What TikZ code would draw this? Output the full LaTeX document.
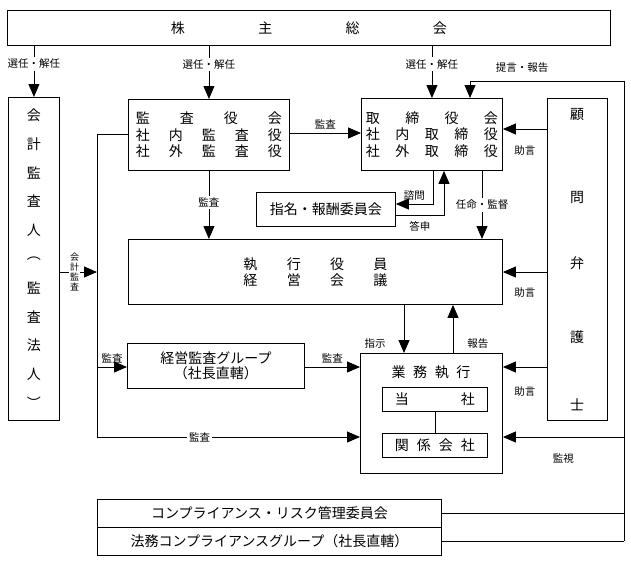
\documentclass[tikz,border=0pt]{standalone}
\usepackage{fontspec}
\setmainfont{Noto Sans CJK JP}
\usetikzlibrary{arrows.meta}
\newcommand{\spreadtxt}[2]{\makebox[#1][s]{#2}}
\tikzset{
  box/.style={draw, line width=0.9pt, inner sep=0pt, anchor=north west, align=center, font=\fontsize{14}{16.5}\selectfont},
  lbl/.style={inner sep=1pt, font=\fontsize{10.5}{12}\selectfont},
  cutlbl/.style={lbl, fill=white, inner sep=2pt},
  tinylbl/.style={cutlbl, inner sep=1pt, align=center, font=\fontsize{9}{10}\selectfont},
  arr/.style={-{Triangle[length=13pt,width=11pt]}, line width=0.9pt},
  ln/.style={line width=0.9pt},
  vchar/.style={inner sep=0pt, font=\fontsize{14}{16}\selectfont}
}

\begin{document}
\begin{tikzpicture}[x=1pt, y=-1pt]
  %%%%% START %%%%%
  \useasboundingbox (0,0) rectangle (631,560);

  % boxes
  \node[box, minimum width=603pt, minimum height=35pt] (kabu) at (7,10) {\spreadtxt{276pt}{株\hfill 主\hfill 総\hfill 会}};
  \node[box, minimum width=51pt, minimum height=323pt] (kaikei) at (8,97) {};
  \node[box, minimum width=161pt, minimum height=71pt] (kansa) at (128,99)
    {\spreadtxt{146pt}{監\hfill 査\hfill 役\hfill 会}\\
     \spreadtxt{146pt}{社\hfill 内\hfill 監\hfill 査\hfill 役}\\
     \spreadtxt{146pt}{社\hfill 外\hfill 監\hfill 査\hfill 役}};
  \node[box, minimum width=141pt, minimum height=72pt] (tori) at (361,98)
    {\spreadtxt{132pt}{取\hfill 締\hfill 役\hfill 会}\\
     \spreadtxt{132pt}{社\hfill 内\hfill 取\hfill 締\hfill 役}\\
     \spreadtxt{132pt}{社\hfill 外\hfill 取\hfill 締\hfill 役}};
  \node[box, minimum width=60pt, minimum height=322pt] (komon) at (547,98) {};
  \node[box, minimum width=139pt, minimum height=34pt] (shimei) at (256,192) {指名・報酬委員会};
  \node[box, minimum width=374pt, minimum height=65pt, font=\fontsize{14}{16}\selectfont] (shikko) at (128,239)
    {\spreadtxt{144pt}{執\hfill 行\hfill 役\hfill 員}\\
     \spreadtxt{144pt}{経\hfill 営\hfill 会\hfill 議}};
  \node[box, minimum width=177pt, minimum height=45pt, font=\fontsize{14}{15}\selectfont] (keiei) at (127,343) {経営監査グループ\\（社長直轄）};
  \node[box, minimum width=142pt, minimum height=120pt] (gyomu) at (360,353) {};
  \node[vchar] (gyomut) at (431,372) {\spreadtxt{79pt}{業\hfill 務\hfill 執\hfill 行}};
  \node[box, minimum width=105pt, minimum height=24pt] (tosha) at (382,387) {\spreadtxt{80pt}{当\hfill 社}};
  \node[box, minimum width=105pt, minimum height=24pt] (kankei) at (382,433) {\spreadtxt{80pt}{関\hfill 係\hfill 会\hfill 社}};
  \node[box, minimum width=344pt, minimum height=28pt] (comp) at (97,499) {コンプライアンス・リスク管理委員会};
  \node[box, minimum width=344pt, minimum height=28pt] (homu) at (97,527) {法務コンプライアンスグループ（社長直轄）};

  % vertical texts
  \foreach \c [count=\i from 0] in {会,計,監,査,人,︵,監,査,法,人,︶}
    \node[vchar] (kaikei-\i) at (34,{115+28.8*\i}) {\c};
  \foreach \c/\yy [count=\i] in {顧/115,問/197,弁/263,護/337,士/405}
    \node[vchar] (komon-\i) at (577,\yy) {\c};

  % free corners
  \coordinate (rtop) at (624,81);
  \coordinate (rbot) at (rtop |- homu.east);
  \coordinate (ltop) at (97,134);
  \coordinate (lmid) at (97,367);
  \coordinate (lbot) at (97,437);

  % from the general meeting
  \draw[arr] (kaikei.north |- kabu.south) -- (kaikei.north) node[cutlbl, pos=0.35] {選任・解任};
  \draw[arr] (kansa.north |- kabu.south) -- (kansa.north) node[cutlbl, pos=0.35] {選任・解任};
  \draw[arr] (tori.north |- kabu.south) -- (tori.north) node[cutlbl, pos=0.35] {選任・解任};

  % audit lines
  \draw[arr] (kansa.east |- 0,133) -- (tori.west |- 0,133) node[lbl, midway, above=2pt] {監査};
  \draw[arr] (kansa.south) -- (shikko.north -| kansa.south) node[cutlbl, pos=0.46] {監査};
  \draw[arr] (kansa.west |- ltop) -- (ltop) -- (lbot) -- (gyomu.west |- lbot) node[cutlbl, pos=0.39] {監査};
  \draw[arr] (lmid) -- (keiei.west |- lmid) node[lbl, midway, above=2pt] {監査};
  \draw[arr] (kaikei.east |- 0,272) -- (ltop |- 0,272) node[tinylbl, pos=0.4] {会\\計\\監\\査};
  \draw[arr] (keiei.east |- lmid) -- (gyomu.west |- lmid) node[lbl, midway, above=2pt] {監査};

  % board and committee
  \draw[arr] (tori.south -| 433,0) |- (shimei.east |- 0,204) node[lbl, pos=0.75, above=2pt] {諮問};
  \draw[arr] (shimei.east |- 0,215) -| (tori.south -| 444,0) node[lbl, pos=0.25, below=5pt] {答申};
  \draw[arr] (tori.south -| 482,0) -- (shikko.north -| 482,0) node[cutlbl, midway] {任命・監督};

  % advisers and monitoring
  \draw[arr] (rtop) -| (tori.north -| 470,0);
  \node[lbl] (teigen) at (522,68) {提言・報告};
  \draw[arr] (komon.west |- 0,129) -- (tori.east |- 0,129) node[lbl, midway, below=15pt] {助言};
  \draw[arr] (komon.west |- 0,272) -- (shikko.east |- 0,272) node[lbl, midway, below=14pt] {助言};
  \draw[arr] (komon.west |- lmid) -- (gyomu.east |- lmid) node[lbl, midway, below=18pt] {助言};
  \draw[arr] (rtop |- lbot) -- (gyomu.east |- lbot) node[lbl, midway, below=15pt] {監視};
  \draw[ln] (rtop) -- (rbot);
  \draw[ln] (comp.east) -- (rtop |- comp.east);
  \draw[ln] (homu.east) -- (rbot);

  % execution
  \draw[arr] (shikko.south -| 404,0) -- (gyomu.north -| 404,0) node[lbl, pos=0.8, left=17pt] {指示};
  \draw[arr] (gyomu.north -| 453,0) -- (shikko.south -| 453,0) node[lbl, pos=0.2, right=13pt] {報告};
  \draw[ln] (tosha.south) -- (kankei.north);
  %%%%% END %%%%%
\end{tikzpicture}
\end{document}
